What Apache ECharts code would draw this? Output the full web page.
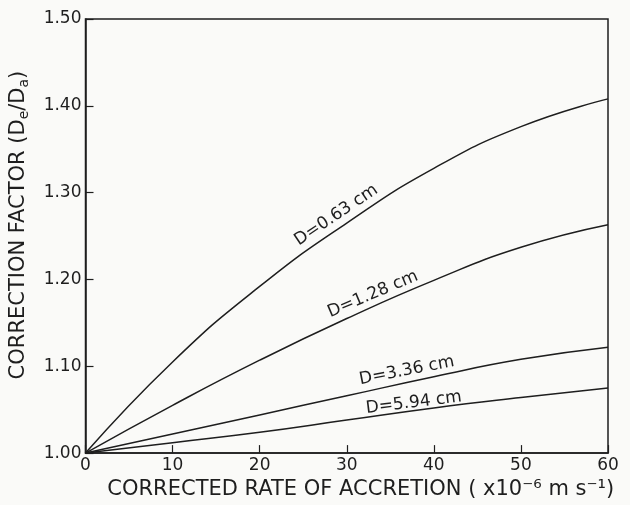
<!DOCTYPE html>
<html>
<head>
<meta charset="utf-8">
<script src="https://cdn.jsdelivr.net/npm/echarts@6/dist/echarts.min.js"></script>
<style>
html,body{margin:0;padding:0;background:#fafaf8;}
#chart{width:630px;height:505px;}
</style>
</head>
<body>
<div id="chart"></div>
<script>
// Data
const rates = [0, 10, 20, 30, 40, 50, 60];
const d063 = [1.000, 1.105, 1.192, 1.265, 1.328, 1.376, 1.408];
const d128 = [1.000, 1.055, 1.107, 1.155, 1.199, 1.237, 1.263];
const d336 = [1.000, 1.022, 1.044, 1.066, 1.088, 1.108, 1.122];
const d594 = [1.000, 1.012, 1.024, 1.038, 1.052, 1.064, 1.075];
const seriesNames = ['D=0.63 cm', 'D=1.28 cm', 'D=3.36 cm', 'D=5.94 cm'];
const seriesValues = [d063, d128, d336, d594];
// label anchor positions (data units) and angle for the curve labels
const labelX = [28.8, 33.0, 36.9, 37.7];
const labelY = [1.274, 1.183, 1.095, 1.058];
const labelAngle = [34, 23, 11, 7];
const yTicks = [1.00, 1.10, 1.20, 1.30, 1.40, 1.50];
const xTicks = [0, 10, 20, 30, 40, 50, 60];

const ink = '#1e1e1e';
const font = 'DejaVu Sans';

const chart = echarts.init(document.getElementById('chart'), null, {renderer: 'canvas'});

const series = seriesValues.map((vals, i) => ({
  type: 'line',
  name: seriesNames[i],
  data: rates.map((x, j) => [x, vals[j]]),
  smooth: 0.5,
  showSymbol: false,
  symbol: 'none',
  lineStyle: {color: ink, width: 1.5},
  markPoint: {
    symbol: 'circle',
    symbolSize: 0,
    silent: true,
    data: [{coord: [labelX[i], labelY[i]]}],
    label: {
      show: true,
      position: 'inside',
      formatter: seriesNames[i],
      rotate: labelAngle[i],
      color: ink,
      fontFamily: font,
      fontSize: 17
    }
  }
}));

chart.setOption({
  backgroundColor: '#fafaf8',
  animation: false,
  grid: {left: 85, right: 22, top: 19, bottom: 50, show: true, borderColor: ink, borderWidth: 1.5, backgroundColor: 'transparent'},
  xAxis: {
    type: 'value',
    min: 0, max: 60, interval: 10,
    name: 'CORRECTED RATE OF ACCRETION ( x10\u207B\u2076 m s\u207B\u00B9)',
    nameLocation: 'middle',
    nameGap: 25,
    nameTextStyle: {color: ink, fontFamily: font, fontSize: 21, padding: [0, 0, 0, 28]},
    axisLine: {show: true, lineStyle: {color: ink, width: 1.5}},
    axisTick: {show: true, inside: true, length: 8, lineStyle: {color: ink, width: 1.2}},
    axisLabel: {color: ink, fontFamily: font, fontSize: 17, margin: 4,
      formatter: v => xTicks.includes(v) ? String(v) : ''},
    splitLine: {show: false}
  },
  yAxis: {
    type: 'value',
    min: 1.0, max: 1.5, interval: 0.1,
    name: '{a|CORRECTION FACTOR (D}{s|e}{a|/D}{s|a}{a|)}',
    nameLocation: 'middle',
    nameGap: 54,
    nameRotate: 90,
    nameTextStyle: {
      color: ink, fontFamily: font, fontSize: 21,
      padding: [0, 0, 0, 22],
      rich: {
        a: {color: ink, fontFamily: font, fontSize: 21, lineHeight: 26},
        s: {color: ink, fontFamily: font, fontSize: 14, lineHeight: 26, verticalAlign: 'bottom', padding: [7, 0, 0, 0]}
      }
    },
    axisLine: {show: true, lineStyle: {color: ink, width: 1.5}},
    axisTick: {show: true, inside: true, length: 8, lineStyle: {color: ink, width: 1.2}},
    axisLabel: {color: ink, fontFamily: font, fontSize: 17, margin: 4,
      formatter: v => yTicks.some(t => Math.abs(t - v) < 1e-6) ? v.toFixed(2) : ''},
    splitLine: {show: false}
  },
  series: series
});
</script>
</body>
</html>
